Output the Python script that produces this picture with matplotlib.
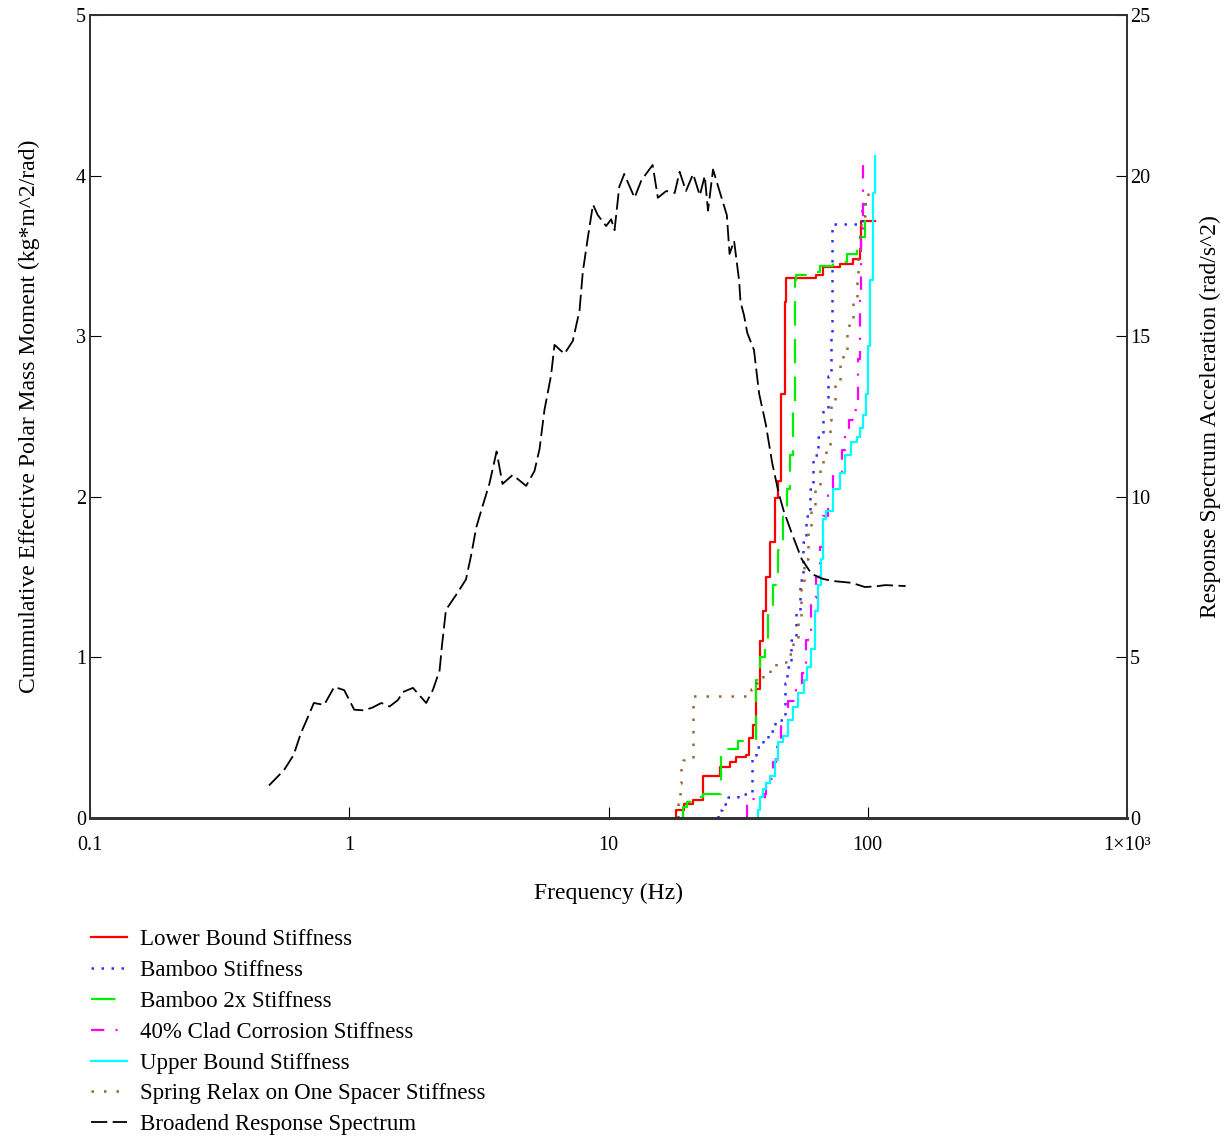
import matplotlib
matplotlib.use('Agg')
from matplotlib import pyplot as plt

plt.rcParams['font.family'] = ['Liberation Serif', 'DejaVu Serif']

# cumulative effective polar mass moment, steps (freq Hz, kg*m^2/rad)
lower_f = [18.2, 18.2, 19.6, 21.2, 23.1, 26.8, 29.3, 31.1, 34.0, 34.8, 36.1, 37.2, 38.3, 39.4, 40.6,
           41.8, 43.7, 45.0, 46.4, 47.8, 48.2, 63.4, 67.3, 77.9, 87.7, 93.0, 94.4, 106.7]
lower_v = [0, 0.05, 0.09, 0.11, 0.26, 0.32, 0.35, 0.38, 0.39, 0.50, 0.58, 0.80, 1.10, 1.29, 1.50,
           1.72, 1.99, 2.10, 2.64, 3.21, 3.36, 3.38, 3.43, 3.45, 3.48, 3.54, 3.72, 3.72]

bamboo_f = [26.4, 26.4, 27.5, 29.0, 31.5, 35.8, 37.2, 39.4, 41.2, 43.7, 47.8, 49.0, 50.7, 53.0,
            54.7, 56.2, 58.0, 59.7, 61.5, 64.3, 67.3, 70.3, 72.4, 73.0, 93.0, 95.0, 97.5]
bamboo_v = [0, 0.05, 0.09, 0.13, 0.15, 0.39, 0.44, 0.49, 0.54, 0.61, 0.84, 0.94, 1.11, 1.29,
            1.48, 1.72, 1.88, 2.05, 2.26, 2.37, 2.54, 2.75, 3.00, 3.70, 3.70, 3.80, 3.87]

bamboo2_f = [19.3, 19.3, 20.0, 21.2, 23.1, 27.2, 28.5, 31.5, 37.2, 38.5, 40.0, 41.2, 43.1, 45.0,
             47.1, 48.6, 50.0, 51.5, 52.3, 53.0, 58.0, 65.2, 73.5, 82.8, 90.7, 93.0, 97.5, 100.0]
bamboo2_v = [0, 0.07, 0.10, 0.13, 0.15, 0.38, 0.43, 0.48, 0.86, 1.00, 1.10, 1.29, 1.45, 1.67,
             1.91, 2.05, 2.26, 2.59, 3.35, 3.38, 3.40, 3.44, 3.46, 3.51, 3.56, 3.62, 3.72, 3.72]

clad_f = [34.3, 34.3, 35.6, 40.0, 40.6, 43.0, 44.4, 46.4, 49.3, 53.0, 56.0, 58.0, 60.6, 63.4,
          65.2, 67.3, 70.3, 73.5, 79.2, 81.6, 85.0, 88.8, 91.5, 93.0, 94.4, 95.9]
clad_v = [0, 0.09, 0.12, 0.15, 0.24, 0.35, 0.44, 0.60, 0.73, 0.81, 0.90, 1.11, 1.37, 1.50,
          1.69, 1.88, 2.05, 2.15, 2.29, 2.43, 2.48, 2.54, 2.86, 3.29, 3.62, 4.08]

upper_f = [37.6, 37.6, 38.5, 39.4, 40.6, 41.8, 43.7, 45.0, 47.1, 49.3, 51.5, 53.8, 57.0, 58.5,
           60.6, 62.6, 64.3, 66.3, 67.3, 69.2, 73.5, 77.9, 81.6, 86.3, 90.7, 93.0, 95.9, 98.6,
           100.0, 101.8, 104.7, 106.7]
upper_v = [0, 0.05, 0.13, 0.18, 0.22, 0.26, 0.36, 0.47, 0.51, 0.61, 0.69, 0.78, 0.86, 0.94,
           1.05, 1.29, 1.45, 1.61, 1.86, 1.91, 2.05, 2.15, 2.26, 2.34, 2.37, 2.43, 2.51, 2.64,
           2.94, 3.35, 3.89, 4.12]

spring_f = [18.5, 18.5, 18.8, 19.1, 19.3, 21.2, 35.6, 37.2, 38.5, 39.4, 41.8, 44.4, 48.6, 51.5,
            53.8, 55.4, 57.0, 58.8, 60.6, 62.6, 65.2, 67.3, 69.2, 71.3, 72.4, 74.6, 77.9, 80.3,
            82.8, 85.0, 87.7, 90.7, 91.5, 93.0, 94.4, 97.5, 100.0]
spring_v = [0, 0.09, 0.22, 0.31, 0.36, 0.76, 0.80, 0.84, 0.88, 0.90, 0.92, 0.97, 1.02, 1.11,
            1.23, 1.45, 1.61, 1.80, 1.94, 2.05, 2.18, 2.23, 2.29, 2.48, 2.59, 2.72, 2.83, 2.88,
            3.02, 3.10, 3.21, 3.35, 3.54, 3.65, 3.75, 3.84, 3.89]

# broadened response spectrum (freq Hz, rad/s^2)
spec_f = [0.49, 0.56, 0.61, 0.65, 0.69, 0.73, 0.80, 0.875, 0.956, 1.045, 1.14, 1.23, 1.33, 1.43,
          1.54, 1.61, 1.76, 1.98, 2.10, 2.23, 2.28, 2.36, 2.43, 2.62, 2.82, 2.95, 3.09, 3.27,
          3.47, 3.70, 3.90, 4.27, 4.81, 5.18, 5.42, 5.66, 6.00, 6.19, 6.76, 7.28, 7.73, 7.96,
          8.33, 8.71, 9.09, 9.79, 10.24, 10.55, 11.0, 11.5, 12.6, 13.4, 14.8, 15.5, 16.7, 18.0,
          18.8, 19.9, 21.2, 22.5, 23.5, 24.2, 25.3, 26.8, 28.6, 29.3, 30.5, 31.9, 32.3, 33.3,
          34.3, 36.4, 38.1, 40.4, 42.8, 45.4, 47.4, 50.9, 55.6, 60.7, 66.7, 72.8, 79.5, 86.8,
          97.5, 107, 117, 140]
spec_v = [1.01, 1.49, 1.96, 2.63, 3.11, 3.58, 3.52, 4.08, 3.98, 3.37, 3.35, 3.44, 3.58, 3.47,
          3.67, 3.92, 4.05, 3.58, 3.98, 4.59, 5.40, 6.48, 6.63, 7.02, 7.43, 8.17, 9.05, 9.72,
          10.40, 11.41, 10.40, 10.68, 10.34, 10.8, 11.49, 12.7, 13.77, 14.73, 14.45, 14.85, 15.80,
          17.01, 18.09, 19.1, 18.77, 18.43, 18.64, 18.3, 19.65, 20.05, 19.31, 19.86, 20.33, 19.31,
          19.52, 19.46, 20.12, 19.52, 20.05, 19.38, 19.99, 18.91, 20.19, 19.52, 18.77, 17.56,
          17.97, 16.73, 16.06, 15.66, 15.1, 14.57, 13.21, 12.27, 11.05, 10.09, 9.56, 8.87, 8.06,
          7.6, 7.45, 7.38, 7.35, 7.32, 7.19, 7.21, 7.25, 7.22]

xticks = [0.1, 1, 10, 100, 1000]
xticklabels = ['0.1', '1', '10', '100', '1\u00d710\u00b3']

fig = plt.figure(figsize=(12.25, 11.37), dpi=100)
ax = fig.add_axes([0.0735, 0.2806, 0.8465, 0.7062])
ax2 = ax.twinx()

h1, = ax.plot(lower_f, lower_v, drawstyle='steps-post', color='#ff0000', lw=1.6)
h2, = ax.plot(bamboo_f, bamboo_v, drawstyle='steps-post', color='#3030ff', lw=1.8, linestyle=(0, (1, 3)))
h3, = ax.plot(bamboo2_f, bamboo2_v, drawstyle='steps-post', color='#00ee00', lw=1.6, linestyle=(0, (11, 6)))
h4, = ax.plot(clad_f, clad_v, drawstyle='steps-post', color='#ff00ff', lw=1.6, linestyle=(0, (6, 5, 1, 5)))
h5, = ax.plot(upper_f, upper_v, drawstyle='steps-post', color='#00ffff', lw=1.6)
h6, = ax.plot(spring_f, spring_v, drawstyle='steps-post', color='#9a6633', lw=1.8, linestyle=(0, (1, 4)))
h7, = ax2.plot(spec_f, spec_v, color='black', lw=1.3, linestyle=(0, (9, 3)))

ax.set_xscale('log')
ax.set_xlim(0.1, 1000)
ax.set_ylim(0, 5)
ax2.set_ylim(0, 25)
ax.set_xticks(xticks)
ax.set_xticklabels(xticklabels)
ax.minorticks_off()
ax.set_yticks([0, 1, 2, 3, 4, 5])
ax2.set_yticks([0, 5, 10, 15, 20, 25])

ax.tick_params(axis='x', direction='in', length=8, labelsize=14.5, pad=13)
ax.tick_params(axis='y', direction='in', length=8, labelsize=14.5, pad=3)
ax2.tick_params(axis='y', direction='in', length=8, labelsize=14.5, pad=2)
for a in (ax, ax2):
    for s in a.spines.values():
        s.set_color('#333333')
        s.set_linewidth(1.3)
    a.spines['bottom'].set_linewidth(2)

ax.set_xlabel('Frequency (Hz)', fontsize=17, labelpad=20)
ax.set_ylabel('Cummulative Effective Polar Mass Moment (kg*m^2/rad)', fontsize=17, labelpad=26)
ax2.set_ylabel('Response Spectrum Acceleration (rad/s^2)', fontsize=17, labelpad=36)

labels = ['Lower Bound Stiffness', 'Bamboo Stiffness', 'Bamboo 2x Stiffness',
          '40% Clad Corrosion Stiffness', 'Upper Bound Stiffness',
          'Spring Relax on One Spacer Stiffness', 'Broadend Response Spectrum']
fig.legend([h1, h2, h3, h4, h5, h6, h7], labels, loc='upper left',
           bbox_to_anchor=(0.074, 0.183), frameon=False, fontsize=16.5,
           handlelength=1.6, handletextpad=0.55, labelspacing=0.43, borderpad=0, borderaxespad=0)

fig.savefig('out.png', dpi=100)
